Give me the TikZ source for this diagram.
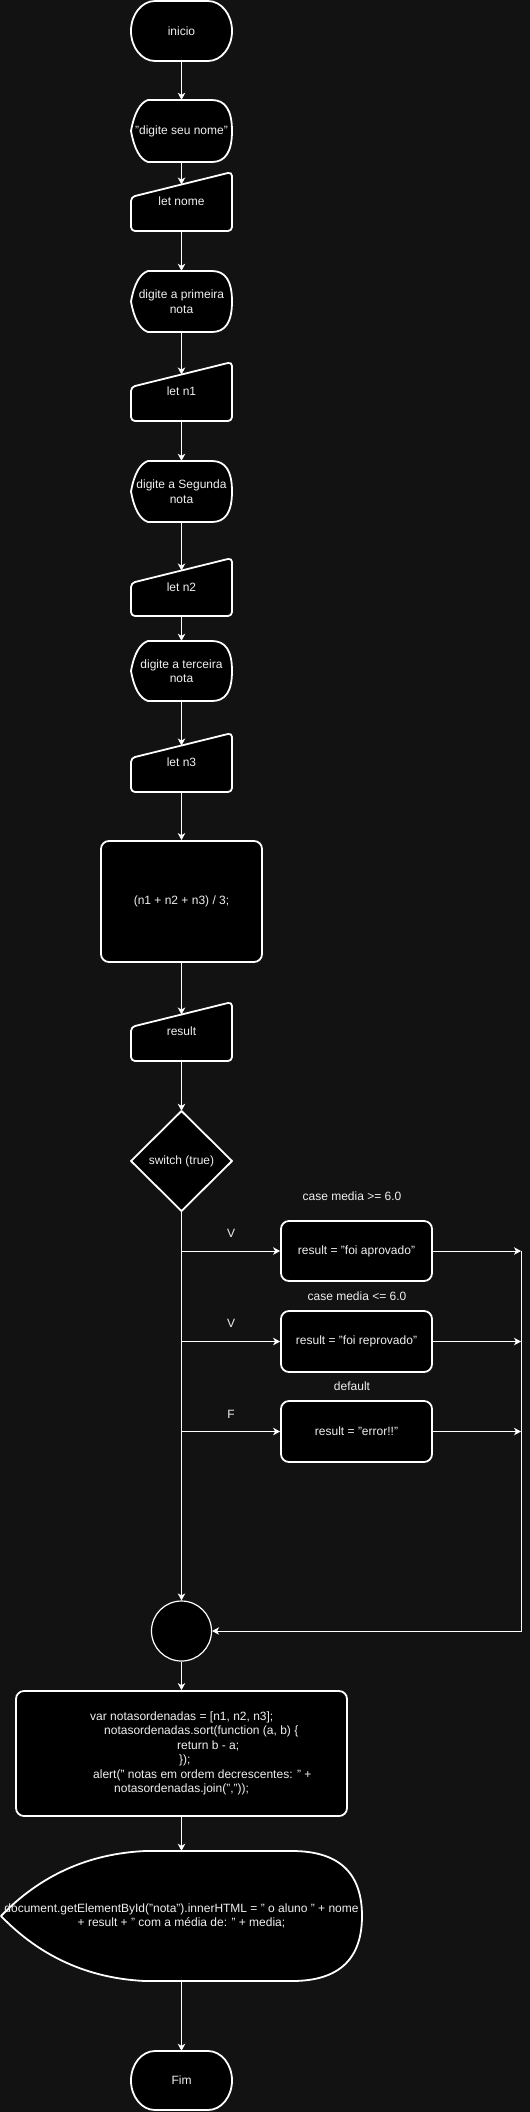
\documentclass[tikz,border=0pt]{standalone}
\usepackage{fontspec}
\setmainfont{Liberation Sans}
\usetikzlibrary{arrows.meta}
\definecolor{bgc}{RGB}{18,18,18}
\definecolor{txc}{RGB}{240,240,240}
% terminator: x1 y1 x2 y2
\newcommand\flterm[4]{%
 \pgfmathsetmacro\flmid{(#2+#4)/2}%
 \pgfmathsetmacro\flk{(#4-#2)/2*0.5523}%
 \filldraw[shp] (#1+24,#2) -- (#3-24,#2) .. controls (#3-10.75,#2) and (#3,\flmid-\flk) .. (#3,\flmid)
  .. controls (#3,\flmid+\flk) and (#3-10.75,#4) .. (#3-24,#4) -- (#1+24,#4)
  .. controls (#1+10.75,#4) and (#1,\flmid+\flk) .. (#1,\flmid)
  .. controls (#1,\flmid-\flk) and (#1+10.75,#2) .. cycle;}
% small display shape: y1 y2 (x from 131 to 232)
\newcommand\fldsp[2]{%
 \pgfmathsetmacro\flmid{(#1+#2)/2}%
 \filldraw[shp] (131,\flmid) .. controls (134.3,\flmid-18) and (140,#1+2.7) .. (148,#1) -- (212,#1)
  .. controls (225.3,#1) and (232,\flmid-20.7) .. (232,\flmid)
  .. controls (232,\flmid+20.7) and (225.3,#2) .. (212,#2) -- (148,#2)
  .. controls (140,#2-2.7) and (134.3,\flmid+18) .. cycle;}
% manual input: top-right y, bottom y
\newcommand\flmin[2]{%
 \filldraw[shp, rounded corners=4pt] (131,#1+25) -- (232,#1) -- (232,#2) -- (131,#2) -- cycle;}
\begin{document}
\begin{tikzpicture}[x=1pt,y=-1pt, font=\fontsize{12}{14.5}\selectfont,
  shp/.style={draw=white, fill=black, line width=1.8pt, line join=round},
  lbl/.style={inner sep=0pt, text=txc, align=center},
  rbox/.style={shp, rounded corners=8pt, inner sep=0pt, text=txc, align=center},
  conn/.style={draw=white, line width=1pt, -{Stealth[length=7pt,width=7.5pt,inset=2pt]}}]
\fill[bgc] (0,0) rectangle (530,2112);
\useasboundingbox (0,0) rectangle (530,2112);

% ---- shapes ----
\flterm{131}{1}{232}{61}
\node[lbl, minimum width=101pt, minimum height=60pt] (inicio) at (181.5,31) {inicio};

\fldsp{100}{162}
\node[lbl, minimum width=101pt, minimum height=62pt] (dnome) at (181.5,131) {"digite seu nome"};

\flmin{172}{231}
\node[lbl, minimum width=101pt, minimum height=59pt] (mnome) at (181.5,201.5) {let nome};
\coordinate (mnomein) at (181.5,184.5);

\fldsp{271}{332}
\node[lbl, minimum width=101pt, minimum height=61pt] (dn1) at (181.5,301.5) {digite a primeira\\nota};

\flmin{362}{421}
\node[lbl, minimum width=101pt, minimum height=59pt] (mn1) at (181.5,391.5) {let n1};
\coordinate (mn1in) at (181.5,374.5);

\fldsp{461}{522}
\node[lbl, minimum width=101pt, minimum height=61pt] (dn2) at (181.5,491.5) {digite a Segunda\\nota};

\flmin{558}{616}
\node[lbl, minimum width=101pt, minimum height=58pt] (mn2) at (181.5,587) {let n2};
\coordinate (mn2in) at (181.5,570.5);

\fldsp{641}{701}
\node[lbl, minimum width=101pt, minimum height=60pt] (dn3) at (181.5,671) {digite a terceira\\nota};

\flmin{733}{792}
\node[lbl, minimum width=101pt, minimum height=59pt] (mn3) at (181.5,762.5) {let n3};
\coordinate (mn3in) at (181.5,745.5);

\node[rbox, minimum width=161pt, minimum height=121pt] (calc) at (181.5,901.5) {(n1 + n2 + n3) / 3;};

\flmin{1002}{1061}
\node[lbl, minimum width=101pt, minimum height=59pt] (mres) at (181.5,1031.5) {result};
\coordinate (mresin) at (181.5,1014.5);

\filldraw[shp] (181.5,1111) -- (232,1161) -- (181.5,1211) -- (131,1161) -- cycle;
\node[lbl, minimum width=101pt, minimum height=100pt] (sw) at (181.5,1161) {switch (true)};

\node[rbox, minimum width=151pt, minimum height=60pt] (ok1) at (356.5,1251) {result = "foi aprovado"};
\node[rbox, minimum width=151pt, minimum height=61pt] (ok2) at (356.5,1341.5) {result = "foi reprovado"};
\node[rbox, minimum width=151pt, minimum height=61pt] (ok3) at (356.5,1431.5) {result = "error!!"};

\node[lbl] (c1) at (352,1196) {case media >= 6.0};
\node[lbl] (c2) at (357,1296) {case media <= 6.0};
\node[lbl] (c3) at (352,1386) {default};
\node[lbl] (v1) at (231,1233) {V};
\node[lbl] (v2) at (231,1323) {V};
\node[lbl] (v3) at (231,1414) {F};

\node[shp, circle, line width=1.2pt, minimum size=60pt, inner sep=0pt] (merge) at (181.5,1631) {};

\node[rbox, minimum width=331pt, minimum height=125pt] (code) at (181.5,1753.5) {};
\node[lbl, align=left, anchor=west] (codetext) at (90,1753.5) {var notasordenadas = [n1, n2, n3];\\
\hspace*{14pt}notasordenadas.sort(function (a, b) \{\\
\hspace*{87pt}return b - a;\\
\hspace*{89pt}\});\\
\hspace*{3pt}alert(" notas em ordem decrescentes: " +\\
\hspace*{24pt}notasordenadas.join(","));};

\filldraw[shp] (1,1916) .. controls (40.3,1875.3) and (88.3,1853.7) .. (145,1851) -- (292,1851)
  .. controls (338.7,1851) and (362,1872.7) .. (362,1916)
  .. controls (362,1959.3) and (338.7,1981) .. (292,1981) -- (145,1981)
  .. controls (88.3,1978.3) and (40.3,1956.7) .. cycle;
\node[lbl, minimum width=361pt, minimum height=130pt] (outdisp) at (181.5,1916) {document.getElementById("nota").innerHTML = " o aluno " + nome\\+ result + " com a média de: " + media;};

\flterm{131}{2051}{232}{2110}
\node[lbl, minimum width=101pt, minimum height=59pt] (fim) at (181.5,2080.5) {Fim};

% ---- connectors ----
\draw[conn] (inicio.south) -- (dnome.north);
\draw[conn] (dnome.south) -- (mnomein);
\draw[conn] (mnome.south) -- (dn1.north);
\draw[conn] (dn1.south) -- (mn1in);
\draw[conn] (mn1.south) -- (dn2.north);
\draw[conn] (dn2.south) -- (mn2in);
\draw[conn] (mn2.south) -- (dn3.north);
\draw[conn] (dn3.south) -- (mn3in);
\draw[conn] (mn3.south) -- (calc.north);
\draw[conn] (calc.south) -- (mresin);
\draw[conn] (mres.south) -- (sw.north);
\draw[conn] (sw.south) -- (merge.north);

\coordinate (t1) at (181.5,1251);
\coordinate (t2) at (181.5,1341.5);
\coordinate (t3) at (181.5,1431.5);
\coordinate (r1) at (521,1251);
\coordinate (r2) at (521,1341.5);
\coordinate (r3) at (521,1431.5);
\draw[conn] (t1) -- (ok1.west);
\draw[conn] (t2) -- (ok2.west);
\draw[conn] (t3) -- (ok3.west);
\draw[conn] (ok1.east) -- (r1);
\draw[conn] (ok2.east) -- (r2);
\draw[conn] (ok3.east) -- (r3);
\draw[conn] (r1) |- (merge.east);

\draw[conn] (merge.south) -- (code.north);
\draw[conn] (code.south) -- (outdisp.north);
\draw[conn] (outdisp.south) -- (fim.north);
\end{tikzpicture}
\end{document}
